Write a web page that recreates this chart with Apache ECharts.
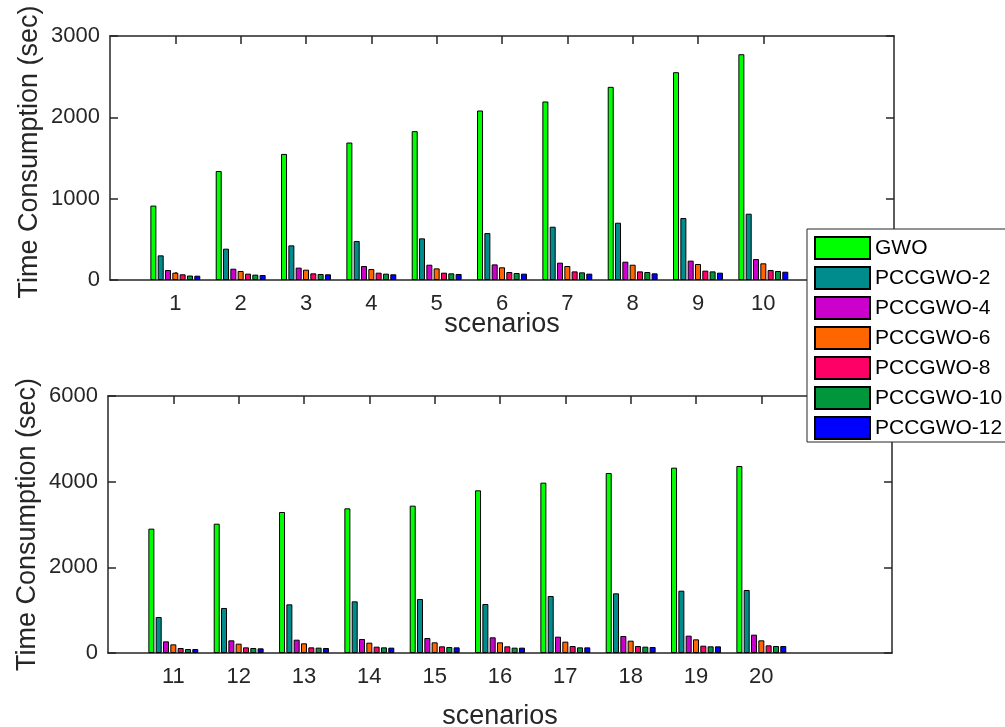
<!DOCTYPE html>
<html>
<head>
<meta charset="utf-8">
<script src="https://cdn.jsdelivr.net/npm/echarts@6/dist/echarts.min.js"></script>
<style>
html,body{margin:0;padding:0;background:#fff;}
#chart{width:1005px;height:727px;}
</style>
</head>
<body>
<div id="chart"></div>
<script>
// ---- data ----
const seriesNames = ['GWO','PCCGWO-2','PCCGWO-4','PCCGWO-6','PCCGWO-8','PCCGWO-10','PCCGWO-12'];
const seriesColors = ['#00ff00','#008c8c','#cc00cc','#ff6600','#ff0066','#00963c','#0000ff'];

const topScenarios = ['1','2','3','4','5','6','7','8','9','10'];
const topGWO  = [915, 1340, 1550, 1690, 1830, 2084, 2195, 2375, 2555, 2776];
const topP2   = [303, 385, 426, 480, 512, 577, 655, 704, 762, 815];
const topP4   = [123, 139, 152, 172, 188, 192, 213, 225, 238, 258];
const topP6   = [90, 111, 127, 135, 143, 156, 172, 188, 197, 205];
const topP8   = [70, 78, 82, 90, 90, 98, 106, 106, 115, 123];
const topP10  = [55, 66, 74, 78, 82, 86, 94, 98, 106, 111];
const topP12  = [53, 61, 70, 70, 74, 78, 78, 82, 90, 102];

const botScenarios = ['11','12','13','14','15','16','17','18','19','20'];
const botGWO  = [2903, 3019, 3292, 3377, 3440, 3798, 3977, 4202, 4327, 4366];
const botP2   = [840, 1051, 1136, 1206, 1261, 1144, 1331, 1393, 1455, 1471];
const botP4   = [272, 296, 311, 327, 350, 366, 381, 397, 405, 428];
const botP6   = [202, 218, 226, 241, 249, 249, 265, 288, 319, 296];
const botP8   = [117, 132, 132, 148, 156, 156, 163, 163, 171, 179];
const botP10  = [93, 117, 125, 132, 140, 125, 132, 148, 156, 163];
const botP12  = [93, 109, 117, 125, 132, 125, 132, 140, 156, 163];

const topTicks = [0, 1000, 2000, 3000];
const botTicks = [0, 2000, 4000, 6000];

// ---- build ----
const FONT = "'Liberation Sans', Arial, sans-serif";
const AX = '#262626';
function padCats(c){ return [''].concat(c, ['','']); }
function padData(d){ return [null].concat(d, [null, null]); }
const tickShow = (i) => i >= 1 && i <= 10;

function xAxes(grid, cats, nameGap){
  const base = {
    type:'category', gridIndex:grid, data:padCats(cats), boundaryGap:false,
    axisLine:{onZero:false, lineStyle:{color:AX,width:1.5}},
    axisTick:{inside:true,length:8,interval:tickShow,lineStyle:{color:AX,width:1.5}},
    splitLine:{show:false}
  };
  return [
    Object.assign({}, base, {position:'bottom', name:'scenarios', nameLocation:'middle', nameGap:nameGap,
      nameMoveOverlap:false,
      nameTextStyle:{fontFamily:FONT,fontSize:27,color:AX},
      axisLabel:{interval:tickShow,fontFamily:FONT,fontSize:22,color:AX,margin:13}}),
    Object.assign({}, base, {position:'top', axisLabel:{show:false}})
  ];
}
function yAxes(grid, ticks, namePad){
  const base = {
    type:'value', gridIndex:grid, min:ticks[0], max:ticks[ticks.length-1], interval:ticks[1]-ticks[0],
    axisLine:{show:true,onZero:false,lineStyle:{color:AX,width:1.5}},
    axisTick:{show:true,inside:true,length:8,lineStyle:{color:AX,width:1.5}},
    splitLine:{show:false}
  };
  return [
    Object.assign({}, base, {position:'left', name:'Time Consumption (sec)', nameLocation:'middle', nameGap:67,
      nameMoveOverlap:false,
      nameTextStyle:{fontFamily:FONT,fontSize:27,color:AX,padding:namePad},
      axisLabel:{fontFamily:FONT,fontSize:22,color:AX,margin:10,formatter:(v)=>String(v)}}),
    Object.assign({}, base, {position:'right', axisLabel:{show:false}})
  ];
}

const topSets = [topGWO, topP2, topP4, topP6, topP8, topP10, topP12];
const botSets = [botGWO, botP2, botP4, botP6, botP8, botP10, botP12];

const series = [];
function addSeries(sets, xi, yi){
  sets.forEach((d, k) => {
    series.push({
      type:'bar', name:seriesNames[k], xAxisIndex:xi, yAxisIndex:yi,
      data:padData(d), barWidth:6, barGap:'22%',
      itemStyle:{color:seriesColors[k], borderColor:'#000', borderWidth:1},
      emphasis:{disabled:true}
    });
  });
}
addSeries(topSets, 0, 0);
addSeries(botSets, 2, 2);

const option = {
  animation:false,
  backgroundColor:'#fff',
  grid:[
    {left:110, top:36, width:784, height:244, outerBoundsMode:'none', containLabel:false},
    {left:108, top:396, width:784, height:257, outerBoundsMode:'none', containLabel:false}
  ],
  xAxis: xAxes(0, topScenarios, 31).concat(xAxes(1, botScenarios, 50)),
  yAxis: yAxes(0, topTicks, [0,0,0,12]).concat(yAxes(1, botTicks, 0)),
  graphic:[{
    type:'rect', z:50, silent:true,
    shape:{x:807, y:229, width:260, height:213},
    style:{fill:'#fff', stroke:AX, lineWidth:1}
  }],
  legend:{
    data:seriesNames, orient:'vertical', left:814, top:236,
    padding:0, itemWidth:55, itemHeight:22, itemGap:6, z:60,
    icon:'rect',
    textStyle:{fontFamily:FONT,fontSize:21,color:'#000',padding:[0,0,0,0]}
  },
  series: series
};
const chart = echarts.init(document.getElementById('chart'), null, {renderer:'canvas'});
chart.setOption(option);
</script>
</body>
</html>
